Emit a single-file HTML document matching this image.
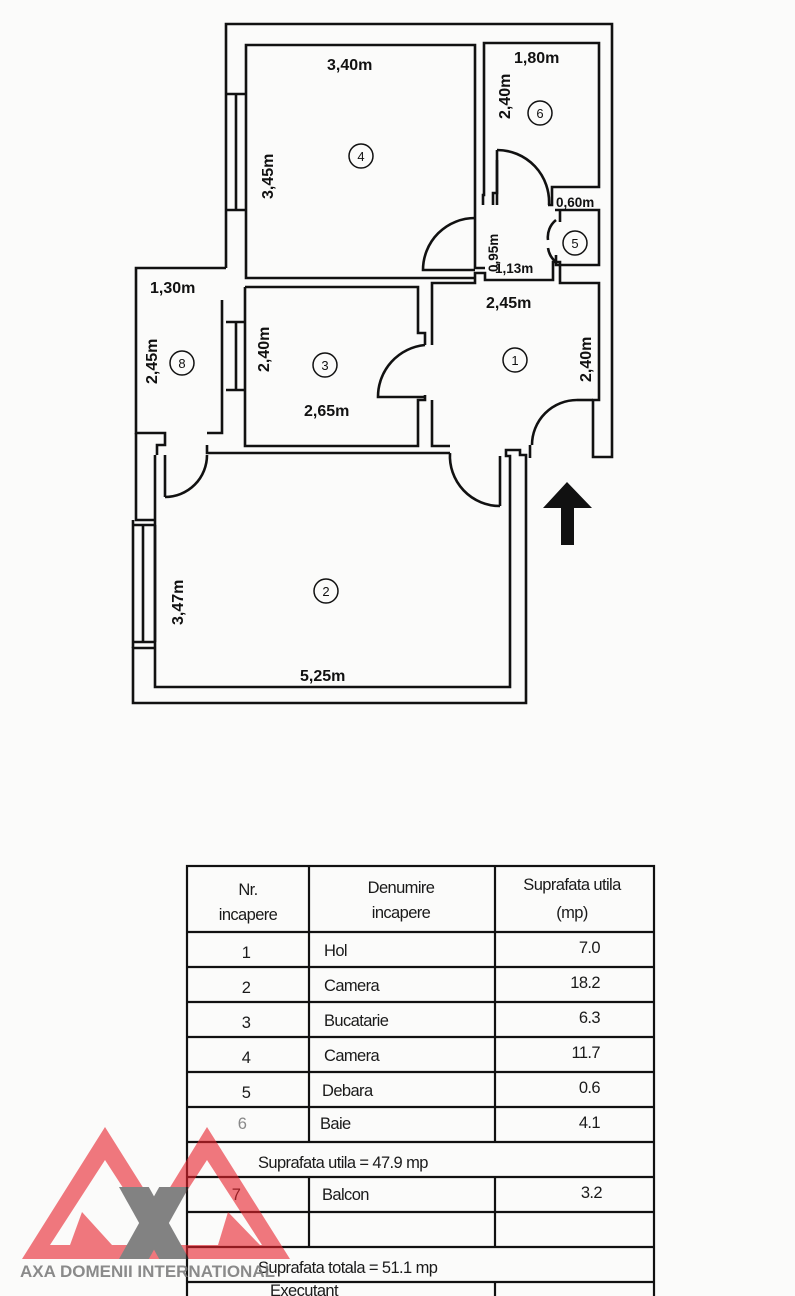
<!DOCTYPE html>
<html><head><meta charset="utf-8"><style>
html,body{margin:0;padding:0;background:#fbfbfa;}
svg{display:block}
.d{font-family:"Liberation Sans",sans-serif;font-weight:bold;font-size:16px;fill:#111}
.n{font-family:"Liberation Sans",sans-serif;font-size:13px;fill:#111}
.t{font-family:"Liberation Sans",sans-serif;font-size:16.5px;fill:#1a1a1a;letter-spacing:-0.6px}
</style></head><body>
<svg width="795" height="1296" viewBox="0 0 795 1296" xmlns="http://www.w3.org/2000/svg">
<defs><clipPath id="xc"><rect x="110" y="1187" width="90" height="72"/></clipPath></defs>
<rect width="795" height="1296" fill="#fbfbfa"/>
<g fill="none" stroke="#111" stroke-width="2.6">
<polyline points="226,268 226,24 612,24 612,457 593,457 593,400"/>
<polyline points="246,210 246,45 475,45 475,268 485,268"/>
<polyline points="246,210 246,278 475,278"/>
<line x1="226" y1="94" x2="246" y2="94"/><line x1="226" y1="210" x2="246" y2="210"/><line x1="236" y1="94" x2="236" y2="210"/>
<polyline points="483,205 483,195 484,195 484,43 599,43 599,187 552,187 552,205 548,205"/>
<polyline points="493,205 493,193 497,193 497,160 "/>
<polyline points="555,210 599,210 599,265 556,265 556,255"/>
<polyline points="560,210 560,222"/>
<polyline points="245,287 418,287 418,333 425,333 425,345"/>
<polyline points="245,287 245,446 418,446 418,400 425,400 425,395"/>
<line x1="226" y1="322" x2="246" y2="322"/><line x1="226" y1="390" x2="246" y2="390"/><line x1="236" y1="322" x2="236" y2="390"/>
<polyline points="432,345 432,283 475,283 475,273 485,273 485,280 553,280 553,262 560,262 560,283 599,283 599,400 592,400"/>
<polyline points="432,400 432,446 450,446"/>
<polyline points="226,268 136,268 136,433 165,433 165,445 157,445 157,455"/>
<polyline points="207,433 222,433 222,300"/>
<polyline points="136,433 136,520 155,520"/>
<polyline points="207,445 207,453 450,453"/>
<polyline points="155,455 155,687 510,687 510,456 506,456 506,450 520,450 520,455 526,455 526,703 133,703 133,648 155,648"/>
<line x1="133" y1="520" x2="133" y2="648"/><line x1="143" y1="525" x2="143" y2="642"/><line x1="155" y1="525" x2="155" y2="642"/>
<line x1="133" y1="525" x2="155" y2="525"/><line x1="133" y1="642" x2="155" y2="642"/>
<polyline points="530,458 530,450 530,445"/>
<path d="M165,497 A42,42 0 0 0 207,455"/><line x1="165" y1="455" x2="165" y2="497"/>
<path d="M450,453 A50,50 0 0 0 500,506"/><line x1="500" y1="456" x2="500" y2="506"/>
<path d="M425,345 A52,52 0 0 0 378,397 L425,397"/>
<path d="M475,218 A52,52 0 0 0 423,270 L475,270"/>
<path d="M497,150 A52,52 0 0 1 549,205"/><line x1="497" y1="150" x2="497" y2="205"/>
<path d="M556,220 A22,22 0 0 0 548,240 M548,248 A22,22 0 0 0 556,262"/>
<path d="M532,445 A45,45 0 0 1 577,400"/><line x1="577" y1="400" x2="593" y2="400"/>
</g>
<polygon points="567,482 543,508 561,508 561,545 574,545 574,508 592,508" fill="#111"/>
<g class="d">
<text x="327" y="70">3,40m</text>
<text x="514" y="63">1,80m</text>
<text x="556" y="207" font-size="13.5">0,60m</text>
<text x="495" y="273" font-size="13.5">1,13m</text>
<text x="486" y="308">2,45m</text>
<text x="150" y="293">1,30m</text>
<text x="304" y="416">2,65m</text>
<text x="300" y="681">5,25m</text>
<text transform="translate(273,199) rotate(-90)">3,45m</text>
<text transform="translate(510,119) rotate(-90)">2,40m</text>
<text transform="translate(498,272) rotate(-90)" font-size="13.5">0,95m</text>
<text transform="translate(591,382) rotate(-90)">2,40m</text>
<text transform="translate(269,372) rotate(-90)">2,40m</text>
<text transform="translate(157,384) rotate(-90)">2,45m</text>
<text transform="translate(183,625) rotate(-90)">3,47m</text>
</g>
<g fill="none" stroke="#111" stroke-width="1.5">
<circle cx="361" cy="156" r="12"/><circle cx="540" cy="113" r="12"/><circle cx="575" cy="243" r="12"/>
<circle cx="515" cy="360" r="12"/><circle cx="325" cy="365" r="12"/><circle cx="182" cy="363" r="12"/><circle cx="326" cy="591" r="12"/>
</g>
<g class="n" text-anchor="middle">
<text x="361" y="161">4</text><text x="540" y="118">6</text><text x="575" y="248">5</text>
<text x="515" y="365">1</text><text x="325" y="370">3</text><text x="182" y="368">8</text><text x="326" y="596">2</text>
</g>
<g stroke="#111" stroke-width="2.2" fill="none">
<rect x="187" y="866" width="467" height="440"/>
<line x1="309" y1="866" x2="309" y2="1142"/><line x1="495" y1="866" x2="495" y2="1142"/>
<line x1="309" y1="1177" x2="309" y2="1247"/><line x1="495" y1="1177" x2="495" y2="1247"/>
<line x1="495" y1="1282" x2="495" y2="1296"/>
<line x1="187" y1="932" x2="654" y2="932"/><line x1="187" y1="967" x2="654" y2="967"/>
<line x1="187" y1="1002" x2="654" y2="1002"/><line x1="187" y1="1037" x2="654" y2="1037"/>
<line x1="187" y1="1072" x2="654" y2="1072"/><line x1="187" y1="1107" x2="654" y2="1107"/>
<line x1="187" y1="1142" x2="654" y2="1142"/><line x1="187" y1="1177" x2="654" y2="1177"/>
<line x1="187" y1="1212" x2="654" y2="1212"/><line x1="187" y1="1247" x2="654" y2="1247"/>
<line x1="187" y1="1282" x2="654" y2="1282"/>
</g>
<g class="t">
<text x="248" y="895" text-anchor="middle">Nr.</text><text x="248" y="920" text-anchor="middle">incapere</text>
<text x="401" y="893" text-anchor="middle">Denumire</text><text x="401" y="918" text-anchor="middle">incapere</text>
<text x="572" y="890" text-anchor="middle">Suprafata utila</text><text x="572" y="918" text-anchor="middle">(mp)</text>
<g text-anchor="middle"><text x="246" y="958">1</text><text x="246" y="993">2</text><text x="246" y="1028">3</text><text x="246" y="1063">4</text><text x="246" y="1098">5</text><text x="242" y="1129" fill="#888">6</text><text x="236" y="1200">7</text></g>
<text x="324" y="956">Hol</text><text x="324" y="991">Camera</text><text x="324" y="1026">Bucatarie</text><text x="324" y="1061">Camera</text><text x="322" y="1096">Debara</text><text x="320" y="1129">Baie</text>
<g text-anchor="end"><text x="600" y="953">7.0</text><text x="600" y="988">18.2</text><text x="600" y="1023">6.3</text><text x="600" y="1058">11.7</text><text x="600" y="1093">0.6</text><text x="600" y="1128">4.1</text><text x="602" y="1198">3.2</text></g>
<text x="258" y="1168">Suprafata utila = 47.9 mp</text>
<text x="322" y="1200">Balcon</text>
<text x="258" y="1273">Suprafata totala = 51.1 mp</text>
<text x="270" y="1296">Executant</text>
</g>
<g opacity="0.6">
<path fill-rule="evenodd" fill="#e8212b" d="M105,1127 L22,1259 L188,1259 Z M105,1160 L50,1245 L160,1245 Z"/>
<polygon fill="#e8212b" points="82,1212 70,1245 112,1245"/>
<path fill-rule="evenodd" fill="#e8212b" d="M207,1127 L126,1259 L290,1259 Z M207,1160 L152,1245 L262,1245 Z"/>
<polygon fill="#e8212b" points="228,1212 218,1245 260,1245"/>
<g clip-path="url(#xc)" stroke="#333" stroke-width="26">
<line x1="130" y1="1180" x2="178" y2="1266"/><line x1="178" y1="1180" x2="130" y2="1266"/>
</g>
</g>
<text x="20" y="1277" font-family="Liberation Sans,sans-serif" font-weight="bold" font-size="17" fill="#777" opacity="0.85">AXA DOMENII INTERNATIONAL</text>
</svg>
</body></html>
